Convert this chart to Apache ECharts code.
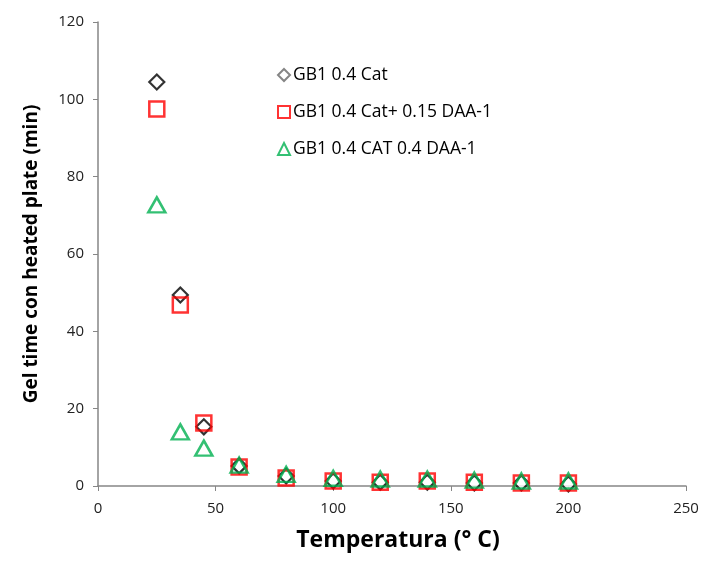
<!DOCTYPE html>
<html lang="en">
<head>
    <meta charset="UTF-8" />
    <title>Gel time</title>
    <script src="https://cdn.jsdelivr.net/npm/echarts@6/dist/echarts.min.js"></script>
</head>
<body style="margin:0">
    <div id="chart" style="width: 705px; height: 561px"></div>
    <script>
        // temperature (°C) for every series
        var temps = [25, 35, 45, 60, 80, 100, 120, 140, 160, 180, 200];
        // gel time (min)
        var cat04 = [104.5, 49.4, 15.3, 5.2, 2.6, 1.3, 1.0, 1.0, 0.8, 0.8, 0.5];
        var cat04Daa015 = [97.5, 46.8, 16.3, 4.9, 2.1, 1.3, 1.0, 1.3, 1.0, 0.8, 0.8];
        var cat04Daa04 = [72.7, 14.0, 9.8, 5.4, 3.0, 2.0, 1.8, 1.8, 1.5, 1.3, 1.3];

        var names = ["GB1 0.4 Cat", "GB1 0.4 Cat+ 0.15 DAA-1", "GB1 0.4 CAT 0.4 DAA-1"];

        function pairs(ys) {
            return temps.map(function (t, i) { return [t, ys[i]]; });
        }

        var font = "'Open Sans', Lato, sans-serif";
        var axisColor = "#868686";

        var chart = echarts.init(document.getElementById("chart"));
        chart.setOption({
            animation: false,
            textStyle: { fontFamily: font },
            grid: { left: 98, right: 19, top: 22, bottom: 75 },
            legend: {
                orient: "vertical",
                left: 272,
                top: 61,
                itemGap: 19,
                itemWidth: 12,
                itemHeight: 12,
                textStyle: { fontSize: 17.5, color: "#000", fontFamily: font, padding: [0, 0, 0, -2] },
                data: [
                    { name: names[0], itemStyle: { borderColor: "#666" } },
                    names[1],
                    names[2]
                ]
            },
            xAxis: {
                type: "value",
                min: 0,
                max: 250,
                interval: 50,
                name: "Temperatura (° C)",
                nameLocation: "middle",
                nameGap: 43,
                nameTextStyle: { fontSize: 23, fontWeight: "bold", color: "#000", padding: [0, 0, 0, 12] },
                axisLine: { lineStyle: { color: axisColor, width: 1.5 } },
                axisTick: { show: true, length: 5, lineStyle: { color: axisColor } },
                axisLabel: { fontSize: 15, color: "#222", margin: 15 },
                splitLine: { show: false }
            },
            yAxis: {
                type: "value",
                min: 0,
                max: 120,
                interval: 20,
                name: "Gel time con heated plate (min)",
                nameLocation: "middle",
                nameGap: 57,
                nameTextStyle: { fontSize: 19, fontWeight: "bold", color: "#000" },
                axisLine: { show: true, lineStyle: { color: axisColor, width: 1.5 } },
                axisTick: { show: true, length: 5, lineStyle: { color: axisColor } },
                axisLabel: { fontSize: 15, color: "#222", margin: 14 },
                splitLine: { show: false }
            },
            series: [
                {
                    name: names[0],
                    type: "scatter",
                    symbol: "diamond",
                    symbolSize: [15, 15],
                    itemStyle: { color: "#fff", borderColor: "#000", borderWidth: 2.2 },
                    data: pairs(cat04),
                    z: 3
                },
                {
                    name: names[1],
                    type: "scatter",
                    symbol: "rect",
                    symbolSize: 15,
                    itemStyle: { color: "transparent", borderColor: "#ff0000", borderWidth: 2.5 },
                    data: pairs(cat04Daa015),
                    z: 4
                },
                {
                    name: names[2],
                    type: "scatter",
                    symbol: "triangle",
                    symbolSize: [17, 15],
                    itemStyle: { color: "transparent", borderColor: "#00b050", borderWidth: 2.5 },
                    data: pairs(cat04Daa04),
                    z: 5
                }
            ]
        });
    </script>
</body>
</html>
